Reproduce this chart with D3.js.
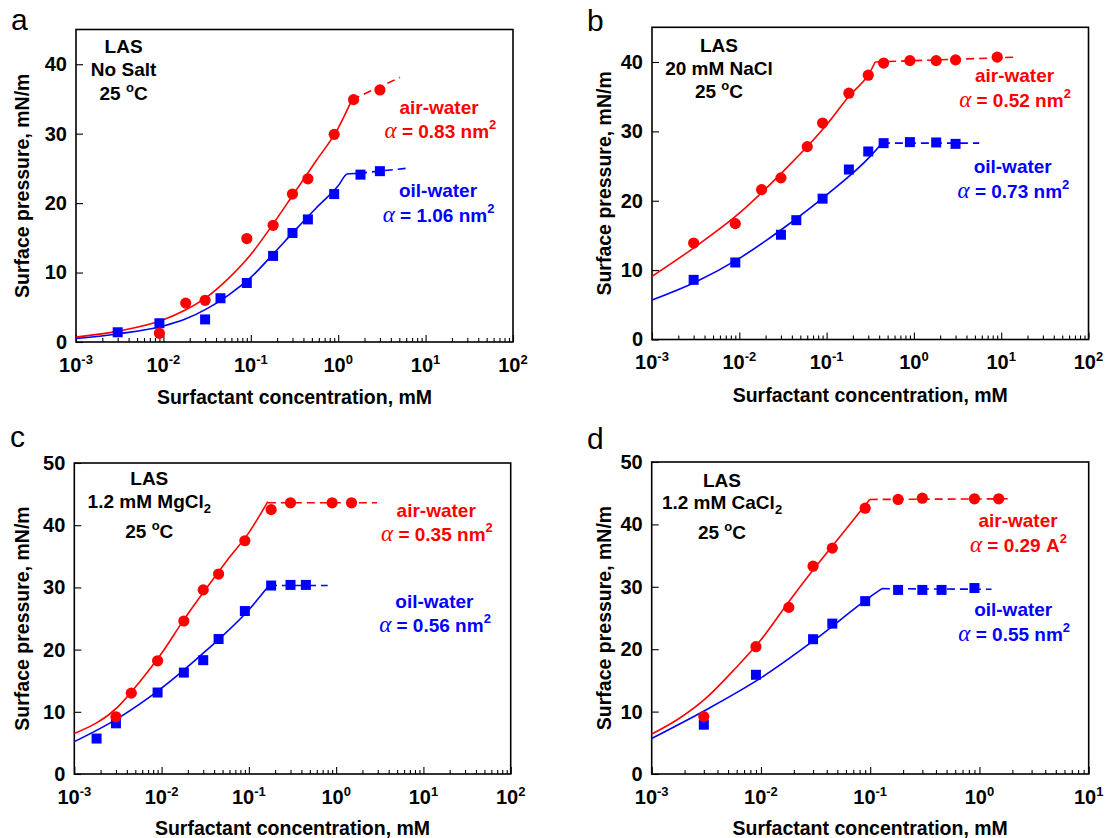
<!DOCTYPE html>
<html>
<head>
<meta charset="utf-8">
<script src="https://cdn.jsdelivr.net/npm/d3@7"></script>
<style>
body { margin: 0; background: #fff; }
text { font-family: "Liberation Sans", Arial, sans-serif; }
</style>
</head>
<body>
<div id="chart"></div>
<script>
// ---- data ----
// panel a : LAS, no salt
var aAirConc = [0.009, 0.018, 0.03, 0.09, 0.18, 0.3, 0.45, 0.9, 1.5, 3];
var aAirPi   = [1.25, 5.6, 6.0, 14.9, 16.8, 21.3, 23.5, 29.9, 34.9, 36.3];
var aOilConc = [0.003, 0.009, 0.03, 0.045, 0.09, 0.18, 0.3, 0.45, 0.9, 1.8, 3];
var aOilPi   = [1.4, 2.7, 3.25, 6.3, 8.5, 12.4, 15.7, 17.65, 21.3, 24.1, 24.6];
var aAirFit  = [[0.001, 0.7], [0.00316, 1.6], [0.01, 3.2], [0.0178, 4.6], [0.0316, 6.5], [0.056, 9.2], [0.1, 12.6], [0.178, 16.9], [0.316, 21.5], [0.56, 26.1], [1.0, 30.8], [1.44, 34.9]];
var aAirCmc  = [[1.44, 34.9], [5.1, 38.1]];
var aOilFit  = [[0.001, 0.5], [0.00316, 1.2], [0.01, 2.3], [0.0178, 3.3], [0.0316, 4.8], [0.056, 6.8], [0.1, 9.3], [0.178, 12.6], [0.316, 16.0], [0.56, 19.3], [1.0, 22.5], [1.27, 24.2], [1.73, 24.3]];
var aOilCmc  = [[1.73, 24.3], [5.9, 25.0]];

// panel b : 20 mM NaCl
var bAirConc = [0.003, 0.009, 0.018, 0.03, 0.06, 0.09, 0.18, 0.3, 0.45, 0.9, 1.8, 3, 9];
var bAirPi   = [13.9, 16.7, 21.6, 23.3, 27.8, 31.2, 35.5, 38.1, 39.85, 40.2, 40.2, 40.3, 40.7];
var bOilConc = [0.003, 0.009, 0.03, 0.045, 0.09, 0.18, 0.3, 0.45, 0.9, 1.8, 3];
var bOilPi   = [8.6, 11.1, 15.1, 17.2, 20.3, 24.5, 27.1, 28.3, 28.45, 28.4, 28.2];
var bAirFit  = [[0.001, 9.1], [0.00316, 13.4], [0.01, 18.2], [0.0316, 24.2], [0.1, 30.95], [0.178, 35.0], [0.316, 38.6], [0.36, 40.0]];
var bAirCmc  = [[0.36, 40.0], [15.5, 40.7]];
var bOilFit  = [[0.001, 5.7], [0.00316, 8.3], [0.01, 11.7], [0.0316, 16.0], [0.1, 20.85], [0.316, 26.4], [0.43, 28.3]];
var bOilCmc  = [[0.43, 28.3], [5.6, 28.3]];

// panel c : 1.2 mM MgCl2
var cAirConc = [0.003, 0.0045, 0.009, 0.018, 0.03, 0.045, 0.09, 0.18, 0.3, 0.9, 1.5];
var cAirPi   = [9.2, 13.0, 18.2, 24.6, 29.6, 32.15, 37.5, 42.5, 43.6, 43.6, 43.6];
var cOilConc = [0.0018, 0.003, 0.009, 0.018, 0.03, 0.045, 0.09, 0.18, 0.3, 0.45];
var cOilPi   = [5.7, 8.15, 13.1, 16.3, 18.3, 21.7, 26.2, 30.3, 30.4, 30.4];
var cAirFit  = [[0.001, 6.5], [0.00316, 10.8], [0.0056, 14.8], [0.01, 19.4], [0.0178, 24.7], [0.0316, 29.6], [0.056, 34.3], [0.1, 38.8], [0.165, 43.8]];
var cAirCmc  = [[0.165, 43.6], [2.94, 43.6]];
var cOilFit  = [[0.001, 5.2], [0.00316, 8.95], [0.01, 13.8], [0.0316, 19.7], [0.1, 26.4], [0.17, 30.3]];
var cOilCmc  = [[0.17, 30.3], [0.8, 30.3]];

// panel d : 1.2 mM CaCl2
var dAirConc = [0.003, 0.009, 0.018, 0.03, 0.045, 0.09, 0.18, 0.3, 0.9, 1.5];
var dAirPi   = [9.2, 20.4, 26.7, 33.3, 36.2, 42.6, 44.0, 44.2, 44.1, 44.1];
var dOilConc = [0.003, 0.009, 0.03, 0.045, 0.09, 0.18, 0.3, 0.45, 0.9];
var dOilPi   = [7.9, 15.9, 21.6, 24.1, 27.7, 29.5, 29.5, 29.5, 29.8];
var dAirFit  = [[0.001, 6.4], [0.00178, 8.9], [0.00316, 12.2], [0.0056, 16.6], [0.01, 21.5], [0.0178, 27.5], [0.0316, 33.2], [0.056, 38.6], [0.099, 44.0]];
var dAirCmc  = [[0.099, 44.0], [1.87, 44.1]];
var dOilFit  = [[0.001, 5.7], [0.00316, 10.3], [0.01, 15.4], [0.0316, 21.6], [0.1, 28.4], [0.128, 29.7]];
var dOilCmc  = [[0.128, 29.7], [1.29, 29.6]];

var yTicks45 = [0, 10, 20, 30, 40];
var yTicks50 = [0, 10, 20, 30, 40, 50];
var salts    = ["No Salt", "20 mM NaCl", "1.2 mM MgCl", "1.2 mM CaCl"];
var areas    = [["0.83 nm", "1.06 nm"], ["0.52 nm", "0.73 nm"], ["0.35 nm", "0.56 nm"], ["0.29 A", "0.55 nm"]];

var RED = "#ff0000", BLUE = "#0000ff";

function zip(c, v) { return c.map(function(d, i) { return [d, v[i]]; }); }

var panels = [
  { letter: "a", lx: 11, ly: 30, left: 76, right: 513, top: 29.5, bottom: 342, xmax: 100, ymax: 45, yTicks: yTicks45,
    ytx: 29, info: [123.6, 53.3, 76, 100], sub: false,
    leg: [[439, 114], [440.4, 138.3], [438, 197.3], [438.6, 221.7]],
    air: zip(aAirConc, aAirPi), oil: zip(aOilConc, aOilPi), airFit: aAirFit, airCmc: aAirCmc, oilFit: aOilFit, oilCmc: aOilCmc,
    salt: salts[0], area: areas[0] },
  { letter: "b", lx: 587, ly: 31, left: 652, right: 1088.5, top: 27.3, bottom: 339.5, xmax: 100, ymax: 45, yTicks: yTicks45,
    ytx: 611, info: [719, 51.7, 74.5, 98.3], sub: false,
    leg: [[1014.5, 81.7], [1015, 106.7], [1012.7, 173.3], [1013.4, 198.3]],
    air: zip(bAirConc, bAirPi), oil: zip(bOilConc, bOilPi), airFit: bAirFit, airCmc: bAirCmc, oilFit: bOilFit, oilCmc: bOilCmc,
    salt: salts[1], area: areas[1] },
  { letter: "c", lx: 10, ly: 447, left: 74.3, right: 510.7, top: 463, bottom: 774, xmax: 100, ymax: 50, yTicks: yTicks50,
    ytx: 29, info: [149.3, 485, 508.3, 538.3], sub: true,
    leg: [[436.2, 516.7], [436.9, 540.7], [434.4, 607.7], [435, 632.3]],
    air: zip(cAirConc, cAirPi), oil: zip(cOilConc, cOilPi), airFit: cAirFit, airCmc: cAirCmc, oilFit: cOilFit, oilCmc: cOilCmc,
    salt: salts[2], area: areas[2] },
  { letter: "d", lx: 587, ly: 449, left: 651.7, right: 1088.7, top: 462, bottom: 774, xmax: 10, ymax: 50, yTicks: yTicks50,
    ytx: 611, info: [722, 486.7, 509.3, 539.3], sub: true,
    leg: [[1018, 527.3], [1018.4, 552.3], [1013.2, 616], [1014.2, 640.7]],
    air: zip(dAirConc, dAirPi), oil: zip(dOilConc, dOilPi), airFit: dAirFit, airCmc: dAirCmc, oilFit: dOilFit, oilCmc: dOilCmc,
    salt: salts[3], area: areas[3] }
];

var svg = d3.select("#chart").append("svg")
  .attr("width", 1105)
  .attr("height", 838)
  .style("background", "#fff");

panels.forEach(function(p) {
  var g = svg.append("g");
  var x = d3.scaleLog().domain([1e-3, p.xmax]).range([p.left, p.right]);
  var y = d3.scaleLinear().domain([0, p.ymax]).range([p.bottom, p.top]);

  var allTicks = x.ticks();
  var isMajor = function(d) { var l = Math.log10(d); return Math.abs(l - Math.round(l)) < 1e-6; };
  var major = allTicks.filter(isMajor);
  var minor = allTicks.filter(function(d) { return !isMajor(d); });

  // minor and major x ticks, pointing inwards
  g.append("g")
    .attr("transform", "translate(0," + p.bottom + ")")
    .call(d3.axisBottom(x).tickValues(minor).tickSize(-4).tickFormat(""))
    .call(function(s) { s.select(".domain").remove(); });
  g.append("g")
    .attr("transform", "translate(0," + p.bottom + ")")
    .call(d3.axisBottom(x).tickValues(major).tickSize(-7).tickFormat(""))
    .call(function(s) { s.select(".domain").remove(); });

  // x tick labels 10^n
  var xl = g.append("g").selectAll("text").data(major).enter().append("text")
    .attr("x", function(d) { return x(d); })
    .attr("y", p.bottom + 29.5)
    .attr("text-anchor", "middle")
    .attr("font-size", 20)
    .attr("font-weight", "bold");
  xl.append("tspan").text("10");
  xl.append("tspan").attr("dy", -8).attr("font-size", 13)
    .text(function(d) { return String(Math.round(Math.log10(d))); });

  // y axis
  g.append("g")
    .attr("transform", "translate(" + p.left + ",0)")
    .call(d3.axisLeft(y).tickValues(p.yTicks).tickSize(-7).tickPadding(9).tickFormat(d3.format("d")))
    .call(function(s) {
      s.select(".domain").remove();
      s.selectAll("text").attr("font-size", 20).attr("font-weight", "bold")
        .attr("font-family", "Liberation Sans, Arial, sans-serif").attr("fill", "#000");
    });

  g.selectAll(".tick line").attr("stroke", "#000").attr("stroke-width", 1.1);

  // frame
  g.append("rect")
    .attr("x", p.left).attr("y", p.top)
    .attr("width", p.right - p.left).attr("height", p.bottom - p.top)
    .attr("fill", "none").attr("stroke", "#000").attr("stroke-width", 1.6);

  // axis titles
  g.append("text")
    .attr("x", (p.left + p.right) / 2).attr("y", Math.min(p.bottom + 62, 835))
    .attr("text-anchor", "middle").attr("font-size", 19.5).attr("font-weight", "bold")
    .text("Surfactant concentration, mM");
  g.append("text")
    .attr("transform", "translate(" + p.ytx + "," + (p.top + p.bottom) / 2 + ") rotate(-90)")
    .attr("text-anchor", "middle").attr("font-size", 19.5).attr("font-weight", "bold")
    .text("Surface pressure, mN/m");

  // panel letter
  g.append("text").attr("x", p.lx).attr("y", p.ly).attr("font-size", 30).text(p.letter);

  // fitted curves
  var line = d3.line()
    .curve(d3.curveMonotoneX)
    .x(function(d) { return x(d[0]); })
    .y(function(d) { return y(d[1]); });
  [[p.airFit, RED, null], [p.airCmc, RED, "8,5"], [p.oilFit, BLUE, null], [p.oilCmc, BLUE, "8,5"]].forEach(function(c) {
    g.append("path").datum(c[0])
      .attr("fill", "none").attr("stroke", c[1]).attr("stroke-width", 1.6)
      .attr("stroke-dasharray", c[2])
      .attr("d", line);
  });

  // data points
  g.append("g").selectAll("rect").data(p.oil).enter().append("rect")
    .attr("x", function(d) { return x(d[0]) - 5; })
    .attr("y", function(d) { return y(d[1]) - 5; })
    .attr("width", 10).attr("height", 10)
    .attr("fill", BLUE);
  g.append("g").selectAll("circle").data(p.air).enter().append("circle")
    .attr("cx", function(d) { return x(d[0]); })
    .attr("cy", function(d) { return y(d[1]); })
    .attr("r", 5.6)
    .attr("fill", RED);

  // info block
  var ib = g.append("g").attr("font-size", 19).attr("font-weight", "bold").attr("text-anchor", "middle");
  ib.append("text").attr("x", p.info[0]).attr("y", p.info[1]).text("LAS");
  var st = ib.append("text").attr("x", p.info[0]).attr("y", p.info[2]);
  st.append("tspan").text(p.salt);
  if (p.sub) st.append("tspan").attr("dy", 5).attr("font-size", 13).text("2");
  var tc = ib.append("text").attr("x", p.info[0]).attr("y", p.info[3]);
  tc.append("tspan").text("25 ");
  tc.append("tspan").attr("dy", -8).attr("font-size", 13).text("o");
  tc.append("tspan").attr("dy", 8).text("C");

  // legend labels
  function alpha(pos, val, col) {
    var t = g.append("text").attr("x", pos[0]).attr("y", pos[1])
      .attr("text-anchor", "middle").attr("fill", col);
    t.append("tspan").attr("font-family", "Liberation Serif, Times New Roman, serif")
      .attr("font-style", "italic").attr("font-size", 23).text("\u03b1");
    t.append("tspan").attr("font-size", 19).attr("font-weight", "bold").text(" = " + val);
    t.append("tspan").attr("dy", -9).attr("font-size", 13).attr("font-weight", "bold").text("2");
  }
  g.append("text").attr("x", p.leg[0][0]).attr("y", p.leg[0][1]).attr("text-anchor", "middle")
    .attr("font-size", 19).attr("font-weight", "bold").attr("fill", RED).text("air-water");
  alpha(p.leg[1], p.area[0], RED);
  g.append("text").attr("x", p.leg[2][0]).attr("y", p.leg[2][1]).attr("text-anchor", "middle")
    .attr("font-size", 19).attr("font-weight", "bold").attr("fill", BLUE).text("oil-water");
  alpha(p.leg[3], p.area[1], BLUE);
});
</script>
</body>
</html>
